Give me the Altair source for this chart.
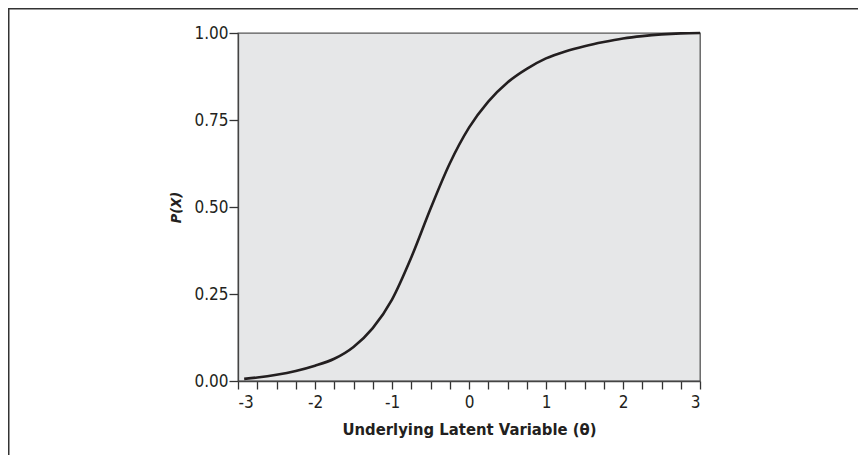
import altair as alt
import pandas as pd

# Values
theta = [-2.92, -2.75, -2.5, -2.25, -2.0, -1.75, -1.5, -1.25, -1.0, -0.75, -0.5, -0.25,
         0.0, 0.25, 0.5, 0.75, 1.0, 1.25, 1.5, 1.75, 2.0, 2.25, 2.5, 2.75, 3.0]
prob = [0.006, 0.010, 0.018, 0.029, 0.044, 0.064, 0.098, 0.152, 0.234, 0.355, 0.495, 0.625,
        0.728, 0.803, 0.858, 0.897, 0.927, 0.947, 0.962, 0.974, 0.984, 0.991, 0.996, 0.999, 1.0]

x_ticks = [-3 + 0.25 * i for i in range(25)]
y_ticks = [0.0, 0.25, 0.5, 0.75, 1.0]

df = pd.DataFrame({"theta": theta, "p": prob})
frame_df = pd.DataFrame({"k": [0]})

FONT = "DejaVu Sans Condensed, Liberation Sans, sans-serif"
INK = "#231f20"

curve = alt.Chart(df).mark_line(
    color=INK, strokeWidth=2.6, interpolate="monotone"
).encode(
    x=alt.X(
        "theta:Q",
        scale=alt.Scale(domain=[-3, 3], nice=False, zero=False),
        axis=alt.Axis(
            title="Underlying Latent Variable (θ)",
            values=x_ticks,
            labelExpr="datum.value % 1 == 0 ? '' + datum.value : ''",
            tickSize=8,
            labelPadding=5,
            titlePadding=11,
            grid=False,
        ),
    ),
    y=alt.Y(
        "p:Q",
        scale=alt.Scale(domain=[0, 1], nice=False),
        axis=alt.Axis(
            title="P(X)",
            values=y_ticks,
            format=".2f",
            tickSize=9,
            labelPadding=1,
            titlePadding=10,
            grid=False,
            titleFontStyle="italic",
            titleFontSize=14.5,
        ),
    ),
)

frame = alt.Chart(frame_df).mark_rect(
    filled=False, stroke="#333333", strokeWidth=1.5
).encode(
    x=alt.value(-229.25),
    x2=alt.value(700),
    y=alt.value(-24.25),
    y2=alt.value(500),
)

chart = alt.layer(frame, curve).properties(
    width=462,
    height=348,
    autosize=alt.AutoSizeParams(type="none"),
    padding={"left": 230, "top": 25, "right": 158, "bottom": 74},
    background="white",
).configure_view(
    fill="#e6e7e8", stroke="#555555", strokeWidth=1.3
).configure_axis(
    labelFont=FONT,
    labelFontSize=17,
    labelColor=INK,
    titleFont=FONT,
    titleFontSize=16.5,
    titleFontWeight="bold",
    titleColor=INK,
    tickColor="#333333",
    tickWidth=1.3,
    domainColor="#444444",
    domainWidth=1.3,
)

chart.save("out.html", embed_options={"renderer": "svg", "actions": False})
